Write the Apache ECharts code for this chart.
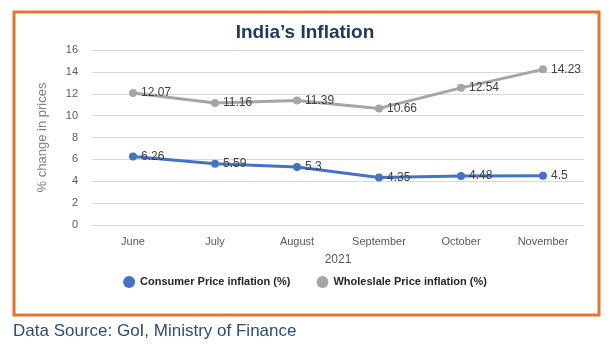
<!DOCTYPE html>
<html><head><meta charset="utf-8">
<script src="https://cdn.jsdelivr.net/npm/echarts@6/dist/echarts.min.js"></script>
<style>html,body{margin:0;padding:0;background:#fff}#c{width:610px;height:353px}</style>
</head><body><div id="c"></div>
<script>
const categories = ["June","July","August","September","October","November"];
const cpi = [6.26, 5.59, 5.3, 4.35, 4.48, 4.5];
const wpi = [12.07, 11.16, 11.39, 10.66, 12.54, 14.23];
const yTicks = [0, 2, 4, 6, 8, 10, 12, 14, 16];
const seriesNames = ["Consumer Price inflation (%)", "Wholeslale Price inflation (%)"];

const chart = echarts.init(document.getElementById('c'), null, {renderer:'canvas'});
const lbl = {show:true, position:'right', distance:4, color:'#404040', fontSize:12, fontFamily:'Liberation Sans'};
chart.setOption({
  animation:false,
  backgroundColor:'#fff',
  title:{text:"India’s Inflation", left:'center', top:18,
    textStyle:{color:'#1f3864', fontSize:19, fontWeight:'bold', fontFamily:'Liberation Sans'}},
  grid:{left:92, right:26, top:50, bottom:128},
  legend:{bottom:60, left:'center', itemWidth:12, itemHeight:12, itemGap:26, icon:'circle',
    textStyle:{color:'#262626', fontSize:11, fontWeight:'bold', fontFamily:'Liberation Sans'},
    data:seriesNames},
  xAxis:{type:'category', data:categories, boundaryGap:true,
    name:'2021', nameLocation:'middle', nameGap:29,
    nameTextStyle:{color:'#595959', fontSize:12, fontFamily:'Liberation Sans'},
    axisLine:{show:true, lineStyle:{color:'#d9d9d9'}}, axisTick:{show:false},
    axisLabel:{color:'#595959', fontSize:11, margin:11, fontFamily:'Liberation Sans'}},
  yAxis:{type:'value', min:yTicks[0], max:yTicks[yTicks.length-1], interval:2,
    name:'% change in prices', nameLocation:'middle', nameGap:43, nameRotate:90,
    nameTextStyle:{color:'#7f7f7f', fontSize:13, fontFamily:'Liberation Sans'},
    axisLine:{show:false}, axisTick:{show:false},
    axisLabel:{color:'#595959', fontSize:11, margin:14, fontFamily:'Liberation Sans'},
    splitLine:{lineStyle:{color:'#d9d9d9'}}},
  series:[
    {name:seriesNames[0], type:'line', data:cpi, symbol:'circle', symbolSize:8,
     itemStyle:{color:'#4472c4'}, lineStyle:{width:3, color:'#4472c4'}, label:lbl},
    {name:seriesNames[1], type:'line', data:wpi, symbol:'circle', symbolSize:8,
     itemStyle:{color:'#a5a5a5'}, lineStyle:{width:3, color:'#a5a5a5'}, label:lbl}
  ],
  graphic:[
    {type:'rect', shape:{x:14, y:12, width:585, height:303}, style:{fill:'none', stroke:'#e9722e', lineWidth:3}, z:-1},
    {type:'text', left:13, top:323, style:{text:'Data Source: GoI, Ministry of Finance', fill:'#2e4d72', font:'17px "Liberation Sans"'}}
  ]
});
</script></body></html>
